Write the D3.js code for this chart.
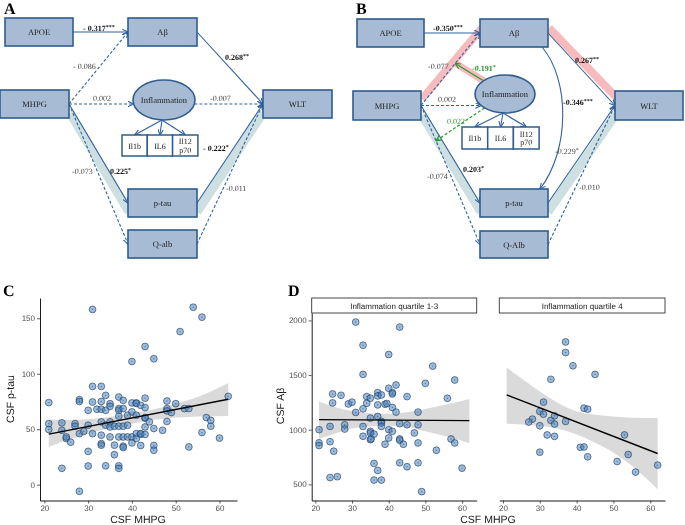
<!DOCTYPE html>
<html>
<head>
<meta charset="utf-8">
<script src="https://cdn.jsdelivr.net/npm/d3@7"></script>
<style>
  body { margin: 0; background: #fff; }
  svg { display: block; will-change: transform; }
  text { text-rendering: geometricPrecision; }
</style>
</head>
<body>
<div id="chart"></div>
<script>
// ---------- path models (A, B) ----------
var pathA = [
  { from: 'APOE', to: 'Aβ', coef: '- 0.317', sig: '***' },
  { from: 'MHPG', to: 'Aβ', coef: '- 0.086', sig: '' },
  { from: 'Aβ', to: 'WLT', coef: '0.268', sig: '**' },
  { from: 'MHPG', to: 'Inflammation', coef: '0.002', sig: '' },
  { from: 'Inflammation', to: 'WLT', coef: '-0.007', sig: '' },
  { from: 'MHPG', to: 'p-tau', coef: '0.225', sig: '*' },
  { from: 'p-tau', to: 'WLT', coef: '- 0.222', sig: '*' },
  { from: 'MHPG', to: 'Q-alb', coef: '-0.073', sig: '' },
  { from: 'Q-alb', to: 'WLT', coef: '-0.011', sig: '' }
];
var pathB = [
  { from: 'APOE', to: 'Aβ', coef: '-0.350', sig: '***' },
  { from: 'MHPG', to: 'Aβ', coef: '-0.077', sig: '' },
  { from: 'Aβ', to: 'WLT', coef: '0.267', sig: '**' },
  { from: 'MHPG', to: 'Inflammation', coef: '0.002', sig: '' },
  { from: 'Aβ', to: 'p-tau', coef: '-0.346', sig: '***' },
  { from: 'MHPG', to: 'p-tau', coef: '0.203', sig: '*' },
  { from: 'p-tau', to: 'WLT', coef: '-0.229', sig: '*' },
  { from: 'MHPG', to: 'Q-Alb', coef: '-0.074', sig: '' },
  { from: 'Q-Alb', to: 'WLT', coef: '-0.010', sig: '' }
];
// inflammation moderating a path of model B (index into pathB)
var moderationB = [
  { on: 1, coef: '-0.191', sig: '*' },
  { on: 7, coef: '0.022', sig: '' }
];
var cytokines = ['Il1b', 'IL6', 'Il12|p70'];

// ---------- scatter data (C) ----------
var cMhpg = [21,21,21,24,24,24,25,25,26,27,27,28,28,28,28,29,30,30,30,30,31,31,31,31,32,33,33,33,33,33,33,33,
  34,34,34,34,35,35,35,35,35,36,36,36,37,37,37,37,37,37,37,37,38,38,38,38,38,38,39,39,39,40,40,40,40,40,
  41,41,41,41,41,42,42,42,42,43,43,43,43,43,43,43,44,45,45,45,45,47,48,48,48,48,49,50,51,52,53,53,54,56,56,57,58,58,60,62];
var cPtau = [74,55,49.7,55.7,14.7,49,41.6,43,38.3,55,52.7,76.6,75,46,-6,48,53.6,67,30,16.8,88.6,74.5,46,158,68,88.6,75,68,56.6,44.6,37,35.6,
  80.5,67,53.6,17,73,70.7,56.6,52,43,27,35.6,52.7,79,68.6,67,61.7,52.7,43,17,14.7,76,68.6,52.7,43,34.7,33.5,62.6,53.6,43,73.7,65.6,43,111,37.7,
  73.7,73.2,62.6,46,41.6,45.5,46,71.5,35.3,124.6,78,69.5,60,60.5,52,45.2,56.6,113.5,50.6,35.3,31,49,75.4,68.6,66.5,57,65,73,138,68.6,68.6,34,160,151,47,60.5,58,52.7,42,79.6];
var cFitX = [21, 62];
var cFitY = [45.5, 77];
var cBandX = [21, 25, 30, 35, 40, 45, 50, 55, 62];
var cBandLo = [34, 40, 46, 51, 55, 58.5, 60.5, 61.5, 62];
var cBandHi = [58.7, 58.5, 59, 61, 64.5, 68, 73, 79, 91.6];
var cTicksX = [20, 30, 40, 50, 60];
var cTicksY = [0, 50, 100, 150];

// ---------- scatter data (D) ----------
var facets = ['Inflammation quartile 1-3', 'Inflammation quartile 4'];
var dLowMhpg = [21,21,21,24,24,24,24.7,24.7,25,26,27,28,28,29,30,31,31,33,33,33,33,33,34,34,35,35,35,35,35,35.2,
  36,36,36,37,37,37,37,37,38,38,38,38,38,39,39,39.5,40,40,40,40,41,41,41,41,42,42,43,43,43,43,43,44,45,45,45,
  47,48,48,48,48,49,50,52,53,56,57,58,58,60];
var dLowAb = [1000,880,855,1030,890,562,1327,1245,803,570,1315,1045,1006,1236,1252,1158,1985,1773,1506,1191,1030,940,1303,1242,1288,1106,985,970,909,915,
  960,691,539,1339,1309,1227,1121,627,1318,1076,1061,1030,539,1233,867,1240,1688,1379,1000,924,1339,1327,1203,985,1409,1161,1939,1055,915,903,697,867,1303,1045,661,
  970,1161,1045,879,697,433,1424,1582,812,1288,915,1455,879,648];
var dHighMhpg = [37,37,39,45,33,31,30,31,28,27,30,33,34,34,37,42,43,32,34,30,41,42,43,53,54,51,56,62];
var dHighAb = [1803,1706,1585,1506,1461,1252,1167,1142,1097,1070,1036,1085,1127,1052,1076,1197,1188,952,939,794,839,842,752,952,773,709,612,676];
var dLowFitY = [1092, 1083];
var dHighFitY = [1318, 782];
var dBandX = [21, 25, 30, 35, 40, 45, 50, 55, 62];
var dLowBandLo = [915, 960, 1010, 1030, 1035, 1025, 985, 945, 879];
var dLowBandHi = [1257, 1210, 1170, 1150, 1145, 1160, 1190, 1225, 1282];
var dHighBandLo = [1055, 1048, 1037, 1008, 955, 880, 790, 670, 455];
var dHighBandHi = [1570, 1470, 1350, 1245, 1168, 1136, 1120, 1110, 1106];
var dTicksY = [500, 1000, 1500, 2000];

// ---------- style ----------
var serif = '"Liberation Serif", "DejaVu Serif", serif';
var sans = '"Liberation Sans", Arial, sans-serif';
var blue = '#2f62a0';
var boxFill = '#a8bbd4';
var boxStroke = '#2f5d8e';
var green = '#2a9a2a';
var greyBand = '#c9dbde';
var pinkBand = '#f6b3b6';

var svg = d3.select('#chart').append('svg').attr('width', 685).attr('height', 525);
var defs = svg.append('defs');
function marker(id, col) {
  defs.append('marker').attr('id', id)
    .attr('viewBox', '0 0 10 10').attr('refX', 9.5).attr('refY', 5)
    .attr('markerWidth', 6).attr('markerHeight', 6)
    .attr('markerUnits', 'userSpaceOnUse').attr('orient', 'auto')
    .append('path').attr('d', 'M0,0.5 L10,5 L0,9.5')
    .attr('fill', 'none').attr('stroke', col).attr('stroke-width', 1.8);
}
marker('ahb', blue);
marker('ahg', green);

// ---------- layouts of the two diagrams ----------
var layoutA = {
  letter: [4, 14, 'A'],
  boxes: { 'APOE': [5, 18, 68, 28], 'Aβ': [128, 18, 69, 28], 'MHPG': [0, 90, 69, 28],
           'WLT': [263, 90, 69, 28], 'p-tau': [128, 189, 69, 28], 'Q-alb': [128, 230, 69, 28] },
  ell: { cx: 164, cy: 100, rx: 31, ry: 20 },
  cyto: { x: 122, y: 135, w: 25.3, h: 21, from: [162, 120] },
  labels: [[83, 31], [73, 69], [225, 60], [93, 101], [210, 101], [110, 174], [203, 151], [72, 174], [226, 191]],
  bands: [[[70, 113], [129, 212], greyBand, 9], [[197, 212], [263, 113], greyBand, 9]]
};
var layoutB = {
  letter: [356, 14, 'B'],
  boxes: { 'APOE': [357, 19, 67, 28], 'Aβ': [480, 19, 68, 28], 'MHPG': [353, 91, 68, 29],
           'WLT': [615, 91, 68, 29], 'p-tau': [480, 189, 68, 28], 'Q-Alb': [480, 231, 68, 27] },
  ell: { cx: 505, cy: 94, rx: 30, ry: 19 },
  cyto: { x: 462, y: 127, w: 25.7, h: 22, from: [503, 113] },
  labels: [[433, 31], [428, 69], [575, 63], [438, 102], [563, 105], [463, 172], [555, 154], [427, 179], [579, 190]],
  regular: [6],
  curve: { 4: [[542, 47], [570, 80], [570, 150], [540, 189]] },
  mod: [{ t: 0.58, label: [472, 71] }, { t: 0.254, label: [447, 124] }],
  bands: [[[422, 99], [482, 28], pinkBand, 8], [[455, 63], [484, 81], pinkBand, 7],
          [[549, 28], [617, 98], pinkBand, 8],
          [[422, 115], [481, 212], greyBand, 9], [[548, 212], [616, 114], greyBand, 9]]
};

function port(L, name, side, refY) {
  if (name === 'Inflammation') {
    var e = L.ell;
    var dy = Math.max(-e.ry * 0.9, Math.min(e.ry * 0.9, refY - e.cy));
    var dx = e.rx * Math.sqrt(1 - dy * dy / (e.ry * e.ry));
    return [side === 'r' ? e.cx + dx : e.cx - dx, e.cy + dy];
  }
  var b = L.boxes[name];
  return [side === 'r' ? b[0] + b[2] : b[0], b[1] + b[3] / 2];
}

function coefText(g, x, y, coef, sig, bold, col) {
  var t = g.append('text').attr('x', x).attr('y', y)
    .attr('font-family', serif).attr('font-size', 8)
    .attr('font-weight', bold ? 'bold' : 'normal')
    .attr('fill', col).text(coef);
  if (sig) t.append('tspan').attr('font-size', 6).attr('dy', -2.5).text(sig);
}

function drawDiagram(L, edges, mods) {
  var g = svg.append('g');
  // highlight bands
  L.bands.forEach(function (b) {
    g.append('line').attr('x1', b[0][0]).attr('y1', b[0][1]).attr('x2', b[1][0]).attr('y2', b[1][1])
      .attr('stroke', b[2]).attr('stroke-width', b[3]).attr('stroke-opacity', 0.9);
  });
  var segs = [];
  edges.forEach(function (e, i) {
    var p;
    if (L.curve && L.curve[i]) {
      var c = L.curve[i];
      p = d3.path();
      p.moveTo(c[0][0], c[0][1]);
      p.bezierCurveTo(c[1][0], c[1][1], c[2][0], c[2][1], c[3][0], c[3][1]);
      segs.push(null);
    } else {
      var tb = L.boxes[e.to];
      var refY = tb ? tb[1] + tb[3] / 2 : L.boxes[e.from][1] + L.boxes[e.from][3] / 2;
      var s = port(L, e.from, 'r', refY);
      var t = port(L, e.to, 'l', s[1]);
      p = d3.path();
      p.moveTo(s[0], s[1]);
      p.lineTo(t[0], t[1]);
      segs.push([s, t]);
    }
    g.append('path').attr('d', p.toString()).attr('fill', 'none')
      .attr('stroke', blue).attr('stroke-width', 1.1)
      .attr('stroke-dasharray', e.sig ? null : '3,2')
      .attr('marker-end', 'url(#ahb)');
    var bold = e.sig && !(L.regular && L.regular.indexOf(i) >= 0);
    coefText(g, L.labels[i][0], L.labels[i][1], e.coef, e.sig, bold, bold ? '#111' : '#444');
  });
  // moderation arrows from the latent factor onto a path
  (mods || []).forEach(function (m, k) {
    var sg = segs[m.on], lay = L.mod[k];
    var tx = sg[0][0] + (sg[1][0] - sg[0][0]) * lay.t;
    var ty = sg[0][1] + (sg[1][1] - sg[0][1]) * lay.t;
    var e = L.ell, dx = tx - e.cx, dy = ty - e.cy;
    var s = 1 / Math.sqrt((dx / e.rx) * (dx / e.rx) + (dy / e.ry) * (dy / e.ry));
    g.append('line').attr('x1', e.cx + dx * s).attr('y1', e.cy + dy * s).attr('x2', tx).attr('y2', ty)
      .attr('stroke', green).attr('stroke-width', 1.2)
      .attr('stroke-dasharray', m.sig ? null : '3,2')
      .attr('marker-end', 'url(#ahg)');
    coefText(g, lay.label[0], lay.label[1], m.coef, m.sig, !!m.sig, green);
  });
  // boxes
  Object.keys(L.boxes).forEach(function (k) {
    var b = L.boxes[k];
    g.append('rect').attr('x', b[0]).attr('y', b[1]).attr('width', b[2]).attr('height', b[3])
      .attr('fill', boxFill).attr('stroke', boxStroke).attr('stroke-width', 1.6);
    g.append('text').attr('x', b[0] + b[2] / 2).attr('y', b[1] + b[3] / 2 + 3)
      .attr('text-anchor', 'middle').attr('font-family', serif).attr('font-size', 8.5)
      .attr('fill', '#222').text(k);
  });
  // latent factor
  var e = L.ell;
  g.append('ellipse').attr('cx', e.cx).attr('cy', e.cy).attr('rx', e.rx).attr('ry', e.ry)
    .attr('fill', boxFill).attr('stroke', boxStroke).attr('stroke-width', 1.6);
  g.append('text').attr('x', e.cx).attr('y', e.cy + 3).attr('text-anchor', 'middle')
    .attr('font-family', serif).attr('font-size', 8.5).attr('fill', '#222').text('Inflammation');
  // indicators
  var c = L.cyto;
  cytokines.forEach(function (name, i) {
    var bx = c.x + i * c.w;
    g.append('line').attr('x1', c.from[0]).attr('y1', c.from[1])
      .attr('x2', bx + c.w / 2).attr('y2', c.y)
      .attr('stroke', blue).attr('stroke-width', 1.1).attr('marker-end', 'url(#ahb)');
    g.append('rect').attr('x', bx).attr('y', c.y).attr('width', c.w).attr('height', c.h)
      .attr('fill', '#fff').attr('stroke', boxStroke).attr('stroke-width', 1.5);
    var lines = name.split('|');
    lines.forEach(function (ln, j) {
      g.append('text').attr('x', bx + c.w / 2)
        .attr('y', c.y + c.h / 2 + 3 + (j - (lines.length - 1) / 2) * 8.5)
        .attr('text-anchor', 'middle').attr('font-family', serif).attr('font-size', 8)
        .attr('fill', '#222').text(ln);
    });
  });
  g.append('text').attr('x', L.letter[0]).attr('y', L.letter[1])
    .attr('font-family', serif).attr('font-weight', 'bold').attr('font-size', 16)
    .attr('fill', '#000').text(L.letter[2]);
}

drawDiagram(layoutA, pathA, []);
drawDiagram(layoutB, pathB, moderationB);

// ---------- scatter helpers ----------
function styleAxis(ax) {
  ax.selectAll('text').attr('font-family', sans).attr('font-size', 8).attr('fill', '#4d4d4d');
  ax.selectAll('.tick line').attr('stroke', '#333').attr('stroke-width', 0.8);
  ax.select('.domain').attr('stroke', '#000').attr('stroke-width', 0.9);
}
function drawBand(g, x, y, bx, lo, hi) {
  var area = d3.area().curve(d3.curveMonotoneX)
    .x(function (d, i) { return x(bx[i]); })
    .y0(function (d, i) { return y(lo[i]); })
    .y1(function (d, i) { return y(hi[i]); });
  g.append('path').datum(bx).attr('d', area).attr('fill', '#d6d6d6').attr('fill-opacity', 0.9);
}
function drawFit(g, x, y, fx, fy) {
  g.append('line').attr('x1', x(fx[0])).attr('y1', y(fy[0])).attr('x2', x(fx[1])).attr('y2', y(fy[1]))
    .attr('stroke', '#000').attr('stroke-width', 1.4);
}
function drawPoints(g, x, y, xs, ys) {
  var pts = g.append('g').selectAll('g').data(xs).join('g')
    .attr('transform', function (d, i) { return 'translate(' + x(d) + ',' + y(ys[i]) + ')'; });
  pts.append('circle').attr('r', 3.4)
    .attr('fill', '#4a86c5').attr('fill-opacity', 0.55)
    .attr('stroke', '#1e3550').attr('stroke-opacity', 0.75).attr('stroke-width', 0.8);
  pts.append('circle').attr('r', 0.7).attr('fill', '#2d5d90').attr('fill-opacity', 0.7);
}

// ---------- panel C ----------
var xC = d3.scaleLinear().domain([19, 64]).range([40, 237]);
var yC = d3.scaleLinear().domain([-14.3, 168.3]).range([500.5, 298]);
var gC = svg.append('g');
drawBand(gC, xC, yC, cBandX, cBandLo, cBandHi);
drawPoints(gC, xC, yC, cMhpg, cPtau);
drawFit(gC, xC, yC, cFitX, cFitY);
styleAxis(gC.append('g').attr('transform', 'translate(0,500.5)')
  .call(d3.axisBottom(xC).tickValues(cTicksX).tickSize(3).tickPadding(2).tickSizeOuter(0)));
styleAxis(gC.append('g').attr('transform', 'translate(40,0)')
  .call(d3.axisLeft(yC).tickValues(cTicksY).tickSize(3).tickPadding(2).tickSizeOuter(0)));
gC.append('text').attr('transform', 'translate(14,399) rotate(-90)').attr('text-anchor', 'middle')
  .attr('font-family', sans).attr('font-size', 10.5).attr('fill', '#1a1a1a').text('CSF p-tau');
gC.append('text').attr('x', 138).attr('y', 523).attr('text-anchor', 'middle')
  .attr('font-family', sans).attr('font-size', 10.5).attr('fill', '#1a1a1a').text('CSF MHPG');
gC.append('text').attr('x', 3).attr('y', 296).attr('font-family', serif).attr('font-weight', 'bold')
  .attr('font-size', 16).attr('fill', '#000').text('C');

// ---------- panel D ----------
var yD = d3.scaleLinear().domain([352, 2068]).range([500.5, 313]);
var xDL = d3.scaleLinear().domain([19, 64]).range([311.7, 476.7]);
var xDR = d3.scaleLinear().domain([19, 64]).range([499.3, 665]);
var gD = svg.append('g');
[[xDL, dLowMhpg, dLowAb, dLowBandLo, dLowBandHi, dLowFitY],
 [xDR, dHighMhpg, dHighAb, dHighBandLo, dHighBandHi, dHighFitY]].forEach(function (f, k) {
  var x = f[0];
  drawBand(gD, x, yD, dBandX, f[3], f[4]);
  drawPoints(gD, x, yD, f[1], f[2]);
  drawFit(gD, x, yD, cFitX, f[5]);
  styleAxis(gD.append('g').attr('transform', 'translate(0,500.5)')
    .call(d3.axisBottom(x).tickValues(cTicksX).tickSize(3).tickPadding(2).tickSizeOuter(0)));
  var r = x.range();
  gD.append('rect').attr('x', r[0]).attr('y', 298).attr('width', r[1] - r[0]).attr('height', 15)
    .attr('fill', '#fff').attr('stroke', '#333').attr('stroke-width', 0.9);
  gD.append('text').attr('x', (r[0] + r[1]) / 2).attr('y', 308.5).attr('text-anchor', 'middle')
    .attr('font-family', sans).attr('font-size', 8).attr('fill', '#1a1a1a').text(facets[k]);
});
styleAxis(gD.append('g').attr('transform', 'translate(311.7,0)')
  .call(d3.axisLeft(yD).tickValues(dTicksY).tickFormat(d3.format('d'))
    .tickSize(3).tickPadding(2).tickSizeOuter(0)));
gD.append('text').attr('transform', 'translate(284,406) rotate(-90)').attr('text-anchor', 'middle')
  .attr('font-family', sans).attr('font-size', 10.5).attr('fill', '#1a1a1a').text('CSF Aβ');
gD.append('text').attr('x', 488).attr('y', 523).attr('text-anchor', 'middle')
  .attr('font-family', sans).attr('font-size', 10.5).attr('fill', '#1a1a1a').text('CSF MHPG');
gD.append('text').attr('x', 288).attr('y', 296).attr('font-family', serif).attr('font-weight', 'bold')
  .attr('font-size', 16).attr('fill', '#000').text('D');
</script>
</body>
</html>
